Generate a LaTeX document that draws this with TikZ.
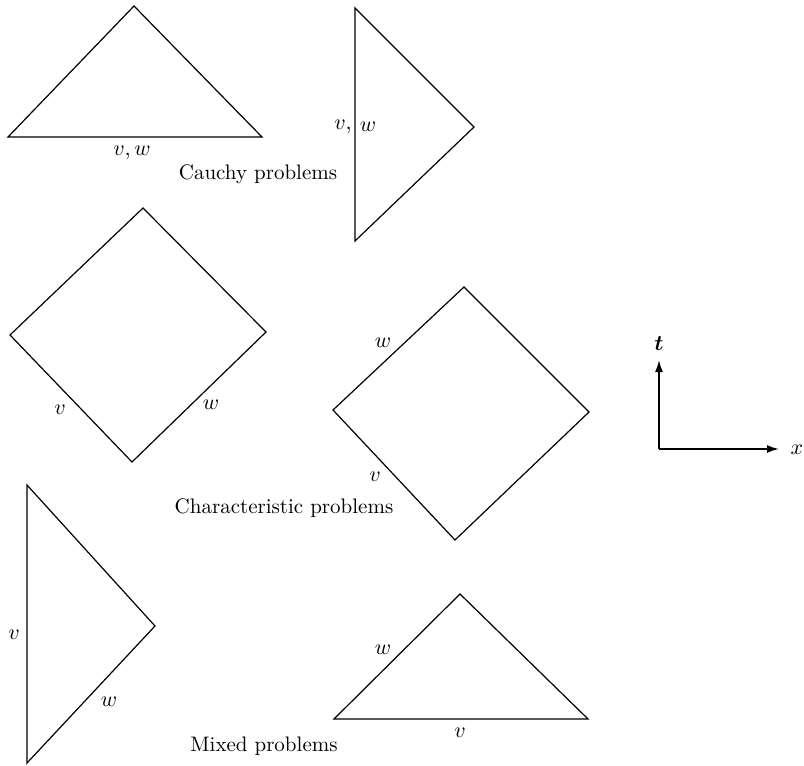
\documentclass[tikz,border=0pt]{standalone}
\usepackage{amsmath}
\usepackage{tikz}
\usetikzlibrary{arrows.meta,positioning,calc}

\begin{document}
\begin{tikzpicture}[x=0.5pt, y=-0.5pt, font=\fontsize{10.5}{12}\selectfont, edge/.style={line width=0.6pt, line join=miter}, lbl/.style={inner sep=1pt}, axis/.style={-{Latex[length=6pt,width=4pt]}, line width=0.9pt}]
\useasboundingbox (0,0) rectangle (804,766);
% Cauchy problems
\coordinate (ca) at (134,6);
\coordinate (cb) at (8,137);
\coordinate (cc) at (262,137);
\draw[edge] (cb) -- (ca) -- (cc) -- cycle;
\node[lbl] (cvw) at (132,153) {$v,w$};
\coordinate (da) at (355,8);
\coordinate (db) at (355,241);
\coordinate (dc) at (474,127);
\node[lbl] (dv) at (343,127) {$v,$};
\node[lbl] (dw) at (368,127) {$w$};
\draw[edge] (da) -- (dc) -- (db) -- cycle;
\node (cauchy) at (258,174) {Cauchy problems};
% Characteristic problems
\coordinate (ea) at (143,208);
\coordinate (eb) at (10,335);
\coordinate (ec) at (132,462);
\coordinate (ed) at (266,332);
\draw[edge] (ea) -- (eb) -- (ec) -- (ed) -- cycle;
\node[lbl] (ev) at (60,410) {$v$};
\node[lbl] (ew) at (211,405) {$w$};
\coordinate (fa) at (464,287);
\coordinate (fb) at (333,410);
\coordinate (fc) at (455,540);
\coordinate (fd) at (589,412);
\draw[edge] (fa) -- (fb) -- (fc) -- (fd) -- cycle;
\node[lbl] (fw) at (383,343) {$w$};
\node[lbl] (fv) at (375,477) {$v$};
\node (charac) at (284,508) {Characteristic problems};
% axes
\coordinate (o) at (659,449);
\coordinate (tend) at (659,360);
\coordinate (xend) at (779,449);
\draw[axis] (o) -- (tend);
\draw[axis] (o) -- (xend);
\node (t) at (659,344) {$\boldsymbol{t}$};
\node (x) at (797,450) {$x$};
% Mixed problems
\coordinate (ga) at (27,485);
\coordinate (gb) at (27,763);
\coordinate (gc) at (155,626);
\draw[edge] (ga) -- (gc) -- (gb) -- cycle;
\node[lbl] (gv) at (14,635) {$v$};
\node[lbl] (gw) at (109,702) {$w$};
\coordinate (ha) at (460,594);
\coordinate (hb) at (334,719);
\coordinate (hc) at (588,719);
\draw[edge] (hb) -- (ha) -- (hc) -- cycle;
\node[lbl] (hw) at (383,650) {$w$};
\node[lbl] (hv) at (460,733) {$v$};
\node (mixed) at (264,746) {Mixed problems};
\end{tikzpicture}
\end{document}
